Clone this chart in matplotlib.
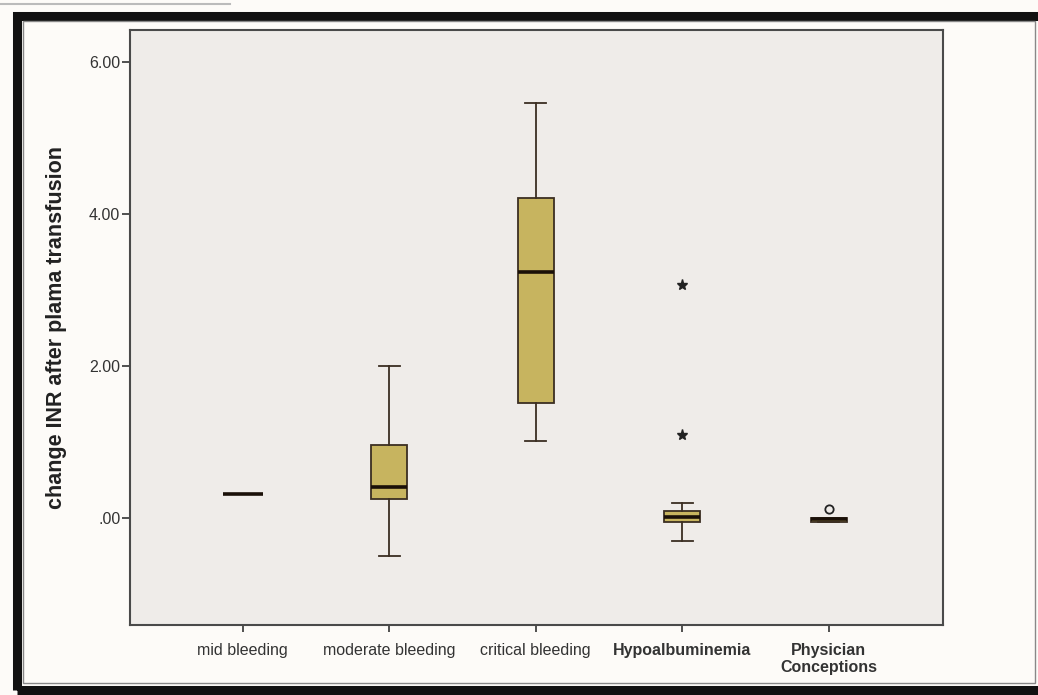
import matplotlib.pyplot as plt
import matplotlib.patches as patches

# Box statistics
categories = ["mid bleeding", "moderate bleeding", "critical bleeding",
              "Hypoalbuminemia", "Physician\nConceptions"]
whislo = [0.32, -0.50, 1.01, -0.30, -0.05]
q1 = [0.32, 0.25, 1.51, -0.06, -0.05]
med = [0.32, 0.41, 3.24, 0.01, -0.02]
q3 = [0.32, 0.96, 4.21, 0.09, 0.00]
whishi = [0.32, 2.00, 5.46, 0.20, 0.00]

# outliers: extremes drawn as stars, ordinary ones as circles
extreme_x = [3, 3]
extreme_y = [3.07, 1.09]
outlier_x = [4]
outlier_y = [0.11]

yticks = [0, 2, 4, 6]
ytick_labels = [".00", "2.00", "4.00", "6.00"]

plt.rcParams['font.family'] = ['Liberation Sans', 'DejaVu Sans']

fig = plt.figure(figsize=(10.38, 6.95), dpi=100)
fig.patch.set_facecolor("#fdfbf8")

# outer frame like the SPSS output window (right edge runs off the picture)
fig.patches.append(patches.Rectangle((17 / 1038, 5 / 695), 1100 / 1038, 674 / 695,
                                     transform=fig.transFigure, fill=False,
                                     edgecolor="#111111", linewidth=6.5))
fig.patches.append(patches.Rectangle((23 / 1038, 12 / 695), 1012 / 1038, 662 / 695,
                                     transform=fig.transFigure, fill=False,
                                     edgecolor="#888888", linewidth=1))
fig.lines.append(plt.Line2D([0, 230 / 1038], [1 - 4 / 695, 1 - 4 / 695],
                            transform=fig.transFigure, color="#bbbbbb", linewidth=1.5))

ax = fig.add_axes([130 / 1038, 1 - 625 / 695, 813 / 1038, 595 / 695])
ax.set_facecolor("#efece9")

stats = []
for i in range(len(categories)):
    stats.append({"whislo": whislo[i], "q1": q1[i], "med": med[i],
                  "q3": q3[i], "whishi": whishi[i], "fliers": []})

edge = "#3b2e22"
ax.bxp(stats, positions=range(len(categories)),
       widths=[0.27, 0.245, 0.245, 0.245, 0.245], capwidths=0.145,
       patch_artist=True, showfliers=False,
       boxprops=dict(facecolor="#c7b45f", edgecolor=edge, linewidth=1.3),
       whiskerprops=dict(color=edge, linewidth=1.3),
       capprops=dict(color=edge, linewidth=1.3),
       medianprops=dict(color="#1a1008", linewidth=2.6))

ax.plot(extreme_x, extreme_y, linestyle="none", marker="*", markersize=8,
        color="#222222")
ax.plot(outlier_x, outlier_y, linestyle="none", marker="o", markersize=6,
        markerfacecolor="none", markeredgecolor="#222222", markeredgewidth=1.3)

ax.set_xlim(-0.77, 4.78)
ax.set_ylim(-1.41, 6.42)
ax.set_yticks(yticks)
ax.set_yticklabels(ytick_labels, fontsize=11.5, color="#333333")
ax.set_xticks(range(len(categories)))
ax.set_xticklabels(categories, fontsize=11.5, color="#333333", linespacing=1.15)
for lbl in ax.get_xticklabels()[3:]:
    lbl.set_fontweight("bold")
ax.tick_params(axis="y", length=6, width=1.2, color="#333333", pad=1)
ax.tick_params(axis="x", length=5, width=1.2, color="#333333", pad=8)

for sp in ax.spines.values():
    sp.set_color("#4a4a4a")
    sp.set_linewidth(1.5)

ax.set_ylabel("change INR after plama transfusion", fontsize=15.5,
              fontweight="bold", color="#222222", labelpad=16)

fig.savefig("out.png", dpi=100, facecolor=fig.get_facecolor())
